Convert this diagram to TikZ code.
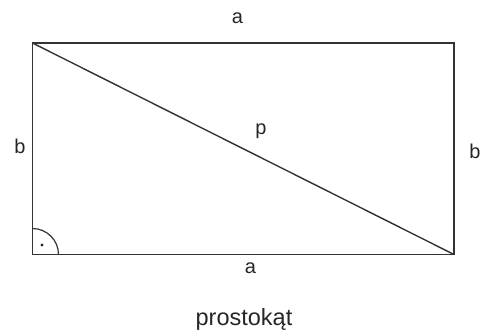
\documentclass[tikz,border=0pt]{standalone}
\usepackage{fontspec}
\setmainfont{Liberation Sans}
\begin{document}
\begin{tikzpicture}[x=1pt,y=-1pt,
  edge/.style={draw=black!80,line width=1.4pt},
  lbl/.style={font=\fontsize{20}{24}\selectfont,text=black!85,anchor=base,inner sep=0pt},
  ttl/.style={font=\fontsize{23.5}{28}\selectfont,text=black!85,anchor=base,inner sep=0pt}]
\useasboundingbox (0,0) rectangle (481,335);
\coordinate (A) at (32.5,254.5);
\coordinate (B) at (454,254.5);
\coordinate (C) at (454,43);
\coordinate (D) at (32.5,43);
\draw[edge] (A) -- (B) -- (C) -- (D) -- cycle;
\draw[edge] (D) -- (B);
\draw[draw=black!80,line width=1.2pt] ([xshift=26pt]A) arc[start angle=0,end angle=-90,radius=26];
\fill[black!85] (42,245) circle (1.6);
\node[lbl] (ta) at (237.5,23.5) {a};
\node[lbl] (ba) at (250.5,273) {a};
\node[lbl] (lb) at (20,153) {b};
\node[lbl] (rb) at (475,158) {b};
\node[lbl] (p) at (261,134) {p};
\node[ttl] (t) at (244,325) {prostokąt};
\end{tikzpicture}
\end{document}
